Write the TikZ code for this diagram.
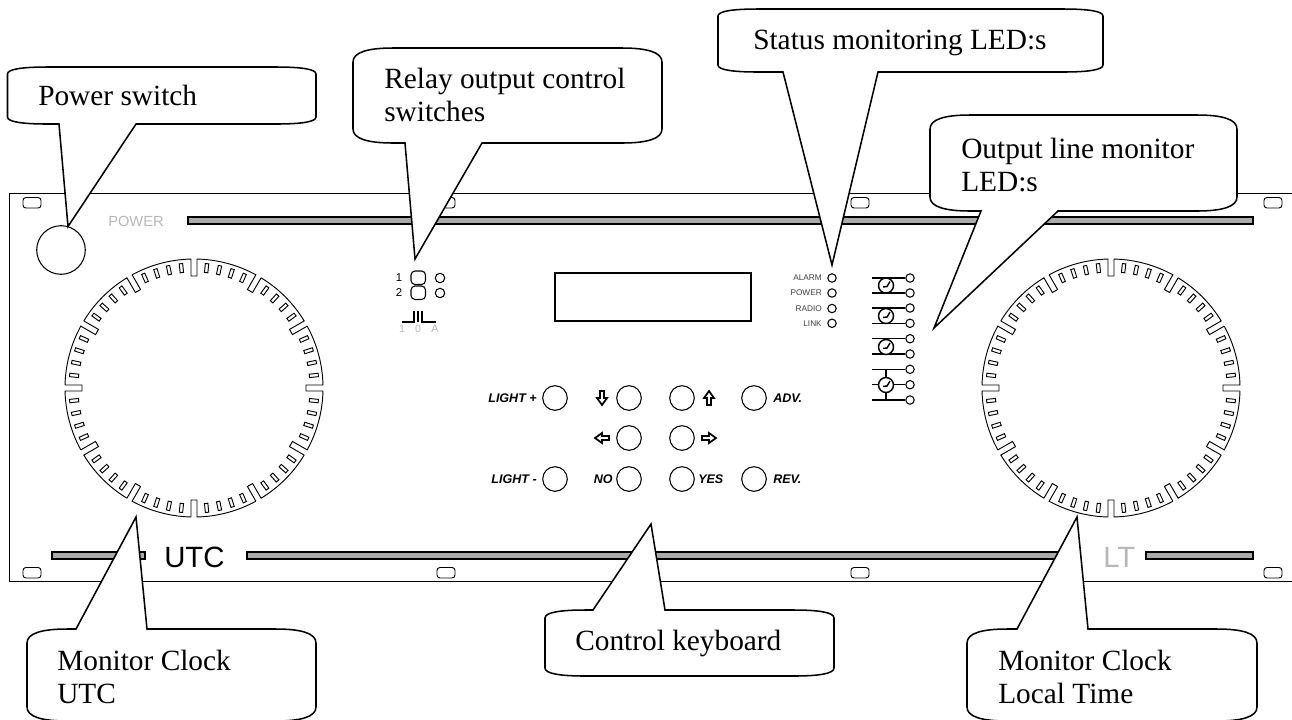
\documentclass[tikz,border=0pt]{standalone}
\usepackage{fontspec}
\setmainfont{Liberation Serif}
\newfontfamily\panelfont{Liberation Sans}
\usepackage{tikz}
\usetikzlibrary{calc}
\definecolor{barcolor}{gray}{0.67}
\definecolor{printcolor}{gray}{0.72}
\tikzset{
    panelline/.style={line width=0.75pt},
    barshape/.style={line width=0.9pt,fill=barcolor},
    slotshape/.style={line width=0.7pt,rounded corners=2.2pt},
    keyshape/.style={line width=0.8pt,fill=white},
    ledshape/.style={line width=0.8pt,fill=white},
    bubble/.style={line width=1.15pt,fill=white},
    bubbletext/.style={inner sep=0pt,anchor=base west,align=left,font=\fontsize{22}{24.75}\selectfont},
    keylabel/.style={inner sep=0pt,font=\panelfont\bfseries\itshape\fontsize{9.4}{11}\selectfont},
    ledlabel/.style={inner sep=0pt,anchor=east,text=black!75,font=\panelfont\fontsize{6.2}{7}\selectfont},
    greytext/.style={inner sep=0pt,text=printcolor,font=\panelfont}
}
% left, top, right, bottom, tail left, tail right, tip x, tip y, corner height
\newcommand{\bubbledown}[9]{
    \draw[bubble] ({#1},{#2+#9}) .. controls ({#1},{#2+0.3*#9}) and ({#1+15},{#2}) .. ({#1+40},{#2})
        -- ({#3-40},{#2}) .. controls ({#3-15},{#2}) and ({#3},{#2+0.3*#9}) .. ({#3},{#2+#9})
        -- ({#3},{#4-#9}) .. controls ({#3},{#4-0.3*#9}) and ({#3-15},{#4}) .. ({#3-40},{#4})
        -- ({#6},{#4}) -- ({#7},{#8}) -- ({#5},{#4})
        -- ({#1+40},{#4}) .. controls ({#1+15},{#4}) and ({#1},{#4-0.3*#9}) .. ({#1},{#4-#9}) -- cycle;
}
\newcommand{\bubbleup}[9]{
    \draw[bubble] ({#1},{#2+#9}) .. controls ({#1},{#2+0.3*#9}) and ({#1+15},{#2}) .. ({#1+40},{#2})
        -- ({#5},{#2}) -- ({#7},{#8}) -- ({#6},{#2})
        -- ({#3-40},{#2}) .. controls ({#3-15},{#2}) and ({#3},{#2+0.3*#9}) .. ({#3},{#2+#9})
        -- ({#3},{#4-#9}) .. controls ({#3},{#4-0.3*#9}) and ({#3-15},{#4}) .. ({#3-40},{#4})
        -- ({#1+40},{#4}) .. controls ({#1+15},{#4}) and ({#1},{#4-0.3*#9}) .. ({#1},{#4-#9}) -- cycle;
}
\newcommand{\clockface}[2]{
    \begin{scope}[shift={(#1,#2)},x=0.75pt,y=0.75pt,line width=0.7pt]
        \foreach \a in {0,30,...,330} {
            \draw[rotate=\a] (128.97,-3) -- (112,-3) -- (112,3) -- (128.97,3) arc[start angle=1.33,end angle=28.67,radius=129];
            \foreach \k in {6,12,18,24} {
                \draw[rotate=\a+\k] (116,-1.7) rectangle (125,1.7);
            }
        }
    \end{scope}
}
\newcommand{\keyarrow}[3]{
    \draw[line width=1.3pt,fill=white,rotate around={#3:(#1,#2)}] ({#1},{#2-7}) -- ({#1+5},{#2}) -- ({#1+2},{#2}) -- ({#1+2},{#2+7})
        -- ({#1-2},{#2+7}) -- ({#1-2},{#2}) -- ({#1-5},{#2}) -- cycle;
}
\newcommand{\smallclock}[2]{
    \draw[line width=1.1pt,fill=white] (#1,#2) circle (7.5);
    \draw[line width=1.1pt] ({#1-3},{#2+1.5}) -- ({#1+1},{#2+1}) -- ({#1+4},{#2-4});
}
\begin{document}
\begin{tikzpicture}[x=0.75pt,y=-0.75pt]
    \useasboundingbox (0,0) rectangle (1292,719);
    % panel
    \draw[panelline] (1292,193.5) -- (9,193.5) -- (9,581.5) -- (1292,581.5);
    \foreach \x in {23,437,851,1264} {
        \draw[slotshape] (\x,197.5) rectangle ({\x+18},208);
        \draw[slotshape] (\x,567.5) rectangle ({\x+18},578);
    }
    \draw[barshape] (188,217) rectangle (1253,224);
    \draw[barshape] (52,552) rectangle (145,559);
    \draw[barshape] (247,552) rectangle (1072,559);
    \draw[barshape] (1146,552) rectangle (1253,559);
    \draw[line width=0.8pt] (61,250) circle (24.3);
    \node[greytext,anchor=base west,font=\panelfont\fontsize{11}{13}\selectfont] (powerPrint) at (108,226) {POWER};
    \node[inner sep=0pt,anchor=base west,font=\panelfont\fontsize{22}{26}\selectfont] (utcPrint) at (164,567) {UTC};
    \node[greytext,anchor=base west,font=\panelfont\fontsize{22}{26}\selectfont] (ltPrint) at (1103,567) {LT};
    % clocks
    \clockface{194}{388}
    \clockface{1111}{388}
    % relay switches
    \node[inner sep=0pt,font=\panelfont\fontsize{8.5}{10}\selectfont] (relayOne) at (399,278) {1};
    \node[inner sep=0pt,font=\panelfont\fontsize{8.5}{10}\selectfont] (relayTwo) at (399,293) {2};
    \foreach \y in {278,293} {
        \draw[line width=0.8pt,rounded corners=3pt] (411,{\y-7}) rectangle (425.5,{\y+6.5});
        \draw[ledshape] (440,\y) circle (4.7);
    }
    \draw[line width=1.1pt] (402,322) -- (414,322) -- (414,311);
    \draw[line width=1.1pt] (418,311) -- (418,322);
    \draw[line width=1.1pt] (422,311) -- (422,322) -- (436,322);
    \node[greytext,font=\panelfont\fontsize{8}{9}\selectfont] (relayOn) at (402,329) {1};
    \node[greytext,font=\panelfont\fontsize{8}{9}\selectfont] (relayOff) at (418,329) {0};
    \node[greytext,font=\panelfont\fontsize{8}{9}\selectfont] (relayAuto) at (435,329) {A};
    % display
    \draw[line width=0.8pt] (555,273) rectangle (751,321);
    % keyboard
    \foreach \x/\y in {555/398,629/398,682/398,754/398,629/438,682/438,555/479,629/479,682/479,754/479} {
        \draw[keyshape] (\x,\y) circle (12.3);
    }
    \node[keylabel,anchor=east] (lightPlus) at (537,398) {LIGHT +};
    \node[keylabel,anchor=east] (lightMinus) at (537,479) {LIGHT -};
    \node[keylabel,anchor=east] (keyNo) at (613,479) {NO};
    \node[keylabel,anchor=west] (keyYes) at (698,479) {YES};
    \node[keylabel,anchor=west] (keyAdv) at (773,398) {ADV.};
    \node[keylabel,anchor=west] (keyRev) at (773,479) {REV.};
    \keyarrow{602}{398}{180}
    \keyarrow{709}{398}{0}
    \keyarrow{602}{438}{90}
    \keyarrow{709}{438}{-90}
    % status leds
    \foreach \y/\name in {278/ALARM,293/POWER,308.5/RADIO,323.3/LINK} {
        \node[ledlabel] (led\name) at (822,\y) {\name};
        \draw[ledshape] (832,\y) circle (4.2);
    }
    % line monitor
    \foreach \y in {278,293,308,323.3,338.7,354,369.3,384.7,400} {
        \draw[line width=1.1pt] (872,\y) -- (905,\y);
        \draw[ledshape] (910,\y) circle (4.2);
    }
    \draw[line width=1.1pt] (886,369.3) -- (886,400);
    \smallclock{886}{285.5}
    \smallclock{886}{316}
    \smallclock{886}{347}
    \smallclock{886}{385}
    % callouts
    \bubbledown{7.5}{67}{316}{124}{59}{136}{68}{226.5}{7}
    \node[bubbletext] (powerText) at (38,105) {Power switch};
    \bubbledown{353}{48}{662}{143}{405}{482}{415}{259}{14}
    \node[bubbletext] (relayText) at (384,121) {Relay output control\\switches};
    \bubbledown{718}{9}{1103}{72}{783}{878}{832}{265}{7}
    \node[bubbletext] (statusText) at (753,49) {Status monitoring LED:s};
    \bubbledown{930}{115}{1237}{211}{981}{1058}{934}{328}{14}
    \node[bubbletext] (outputText) at (961,191) {Output line monitor\\LED:s};
    \bubbleup{27}{629}{316}{721}{76}{147}{136}{517}{14}
    \node[bubbletext] (utcText) at (57,703) {Monitor Clock\\UTC};
    \bubbleup{545}{610}{834}{676}{593}{665}{651}{524}{8}
    \node[bubbletext] (keyboardText) at (575,650) {Control keyboard};
    \bubbleup{967}{629}{1257}{721}{1017}{1088}{1077}{517}{14}
    \node[bubbletext] (localText) at (998,703) {Monitor Clock\\Local Time};
\end{tikzpicture}
\end{document}
